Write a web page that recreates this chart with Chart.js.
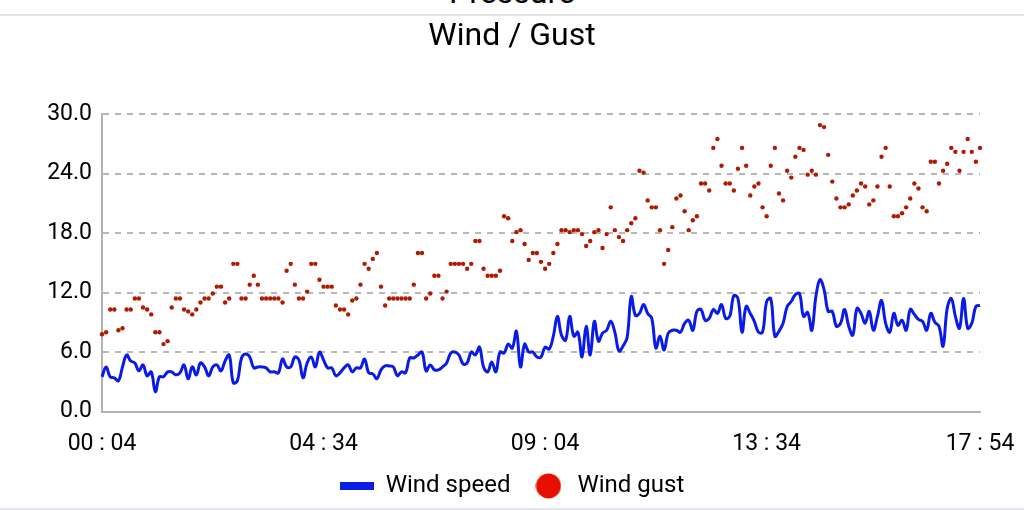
<!DOCTYPE html>
<html><head><meta charset="utf-8">
<script src="https://cdn.jsdelivr.net/npm/chart.js@4/dist/chart.umd.min.js"></script>
<style>
html,body{margin:0;padding:0;background:#fff;width:1024px;height:510px;overflow:hidden;font-family:Roboto,sans-serif;}
#prev{position:absolute;left:0;width:1024px;top:-24px;text-align:center;font-size:32px;line-height:32px;color:#000;}
#sep{position:absolute;left:0;top:14px;width:1024px;height:2px;background:#e2e2e2;}
#wrap{position:absolute;left:0;top:17px;width:1024px;height:491px;}
#bot{position:absolute;left:0;top:508px;width:1024px;height:2px;background:#e4e6ee;}
</style></head>
<body>
<div id="prev">Pressure</div><div id="sep"></div>
<div id="wrap"><canvas id="c"></canvas></div>
<div id="bot"></div>
<script>
const startMinutes = 4;     // 00:04
const stepMinutes = 5;
const windSpeed = [
3.5,4.5,3.5,3.4,3.1,4.5,5.7,5.1,4.9,4.1,4.7,3.6,4.0,2.0,3.5,3.5,4.0,4.0,3.7,3.9,
4.7,3.3,4.5,3.7,4.9,4.5,3.6,4.5,4.7,4.1,5.1,5.7,2.9,3.1,5.4,5.8,5.5,4.4,4.5,4.5,
4.4,4.0,4.0,3.9,5.3,4.5,4.5,5.5,5.2,3.4,4.9,5.5,4.5,6.0,5.2,4.4,4.4,3.6,3.9,4.4,
4.7,4.0,4.4,4.4,5.3,3.9,3.8,3.3,4.2,4.6,4.6,4.5,3.6,4.0,3.9,5.4,5.4,5.7,6.0,4.1,
4.7,4.2,4.2,4.5,4.9,5.9,6.0,5.7,4.8,4.9,6.0,5.7,6.5,4.5,4.0,5.0,4.0,6.0,5.9,6.8,
6.4,8.1,4.5,6.8,6.0,6.0,5.5,5.5,6.5,6.3,7.6,9.6,7.7,7.2,9.6,7.6,8.0,5.5,8.6,5.7,
9.1,7.1,7.9,8.2,9.1,8.0,6.1,6.6,7.5,11.6,9.7,9.9,10.8,9.9,9.4,6.4,7.6,6.2,7.9,8.2,
8.2,8.0,8.9,9.2,8.2,10.1,10.3,9.2,9.4,10.3,9.9,10.8,9.4,9.6,11.7,11.4,8.0,10.6,9.9,9.1,
8.0,8.0,11.1,11.4,7.6,8.1,8.9,10.6,11.1,11.8,11.9,9.6,10.0,8.2,11.6,13.3,12.3,10.1,10.1,8.6,
8.9,10.3,8.6,7.7,10.4,9.9,8.9,10.1,8.2,9.6,11.2,8.9,8.0,9.9,8.7,9.2,8.2,10.3,9.8,9.3,
9.1,8.2,9.9,9.0,8.6,6.6,10.4,11.4,9.6,8.4,11.4,8.4,8.9,10.6,10.7
];
const windGust = [
7.8,8.0,10.3,10.3,8.2,8.4,10.3,10.3,11.4,11.4,10.5,10.3,9.8,8.0,8.0,6.8,7.1,10.5,11.4,11.4,
10.3,10.1,9.8,10.3,11.0,11.4,11.4,11.9,12.6,12.6,11.0,11.4,14.9,14.9,11.4,11.4,12.8,13.7,12.8,11.4,
11.4,11.4,11.4,11.4,11.0,14.2,14.9,12.8,11.4,11.4,12.1,14.9,14.9,13.3,12.6,12.6,12.6,10.7,10.3,10.3,
9.8,11.2,11.4,12.8,14.9,14.4,15.4,16.0,12.6,10.7,11.4,11.4,11.4,11.4,11.4,11.4,12.8,16.0,16.0,11.4,
11.9,13.7,13.7,11.4,12.1,14.9,14.9,14.9,14.9,14.4,14.9,17.2,17.2,14.4,13.7,13.7,13.7,14.2,19.7,19.5,
17.2,18.1,18.3,16.9,15.3,16.0,16.0,15.1,14.4,14.9,16.0,16.9,18.3,18.3,18.1,18.3,18.3,17.9,16.7,17.2,
18.1,18.3,16.5,17.9,20.6,18.3,17.6,17.2,18.3,19.0,19.5,24.3,24.1,21.3,20.6,20.6,18.3,14.9,16.3,18.6,
21.5,21.8,20.2,18.3,19.3,19.7,23.0,23.0,22.3,26.6,27.5,24.8,23.0,23.0,22.3,24.5,26.6,24.8,21.8,22.7,
23.0,20.6,19.7,24.8,26.6,22.0,21.3,24.3,23.6,25.7,26.6,26.4,23.9,24.3,23.9,28.9,28.7,25.9,23.2,21.5,
20.6,20.6,20.9,21.8,22.3,23.0,22.7,20.9,21.3,22.7,25.7,26.6,22.7,19.7,19.7,20.0,20.6,21.5,23.0,22.5,
20.6,20.2,25.2,25.2,23.0,24.3,25.0,26.6,26.2,24.3,26.2,27.5,26.2,25.2,26.6
];
const tickIndexes = [0, 54, 108, 162, 214];
const tickLabels = ['00 : 04', '04 : 34', '09 : 04', '13 : 34', '17 : 54'];
const yMin = 0, yMax = 30, yStep = 6;

const pad = n => String(n).padStart(2, '0');
const times = windSpeed.map((_, i) => {
  const m = startMinutes + i * stepMinutes;
  return pad(Math.floor(m / 60)) + ' : ' + pad(m % 60);
});

function makeIcon(w, h, draw) {
  const c = document.createElement('canvas');
  c.width = w; c.height = h;
  draw(c.getContext('2d'));
  return c;
}
const blueIcon = makeIcon(34, 8, g => { g.fillStyle = '#0a1ee8'; g.fillRect(0, 0, 34, 8); });
const redIcon = makeIcon(26, 26, g => {
  g.fillStyle = '#e60f00'; g.beginPath(); g.arc(13, 13, 12.5, 0, Math.PI * 2); g.fill();
});

const FONT = 'Roboto';
new Chart(document.getElementById('c'), {
  type: 'line',
  data: {
    labels: times,
    datasets: [{
      label: 'Wind speed',
      data: windSpeed,
      borderColor: '#0a1be8',
      backgroundColor: '#0a1be8',
      borderWidth: 3,
      pointRadius: 0,
      tension: 0.4,
      fill: false
    }, {
      label: 'Wind gust',
      data: windGust,
      showLine: false,
      borderColor: '#e60f00',
      backgroundColor: '#e60f00',
      pointBackgroundColor: '#b01a00',
      pointBorderColor: '#b01a00',
      pointRadius: 2.2,
      pointBorderWidth: 0
    }]
  },
  options: {
    responsive: true,
    maintainAspectRatio: false,
    animation: false,
    layout: { padding: { left: 44, right: 44, top: 0, bottom: 0 } },
    plugins: {
      title: {
        display: true, text: 'Wind / Gust', color: '#000',
        font: { family: FONT, size: 32, weight: 'normal', lineHeight: 1.1 },
        padding: { top: 2, bottom: 60 }
      },
      legend: {
        position: 'bottom',
        labels: {
          usePointStyle: true, pointStyleWidth: 34, boxHeight: 18, padding: 21,
          color: '#000', font: { family: FONT, size: 24 },
          generateLabels(chart) {
            const items = Chart.defaults.plugins.legend.labels.generateLabels(chart);
            items[0].pointStyle = blueIcon;
            items[1].pointStyle = redIcon;
            return items;
          }
        }
      },
      tooltip: { enabled: false }
    },
    scales: {
      x: {
        grid: { display: false, drawTicks: false },
        border: { display: true, color: '#b3b3b3', width: 2 },
        afterFit: s => { s.height = 41.5; },
        ticks: {
          autoSkip: false, maxRotation: 0, minRotation: 0, padding: 9,
          color: '#000', font: { family: FONT, size: 23, lineHeight: 2.03 },
          callback: (v, i) => { const k = tickIndexes.indexOf(i); return k >= 0 ? tickLabels[k] : ''; }
        }
      },
      y: {
        min: yMin, max: yMax,
        afterFit: s => { s.width = 58; },
        ticks: {
          stepSize: yStep, padding: 10, color: '#000', font: { family: FONT, size: 23 },
          callback: v => Number(v).toFixed(1)
        },
        grid: { color: '#b8b8b8', lineWidth: 2, drawTicks: false },
        border: { display: true, color: '#b3b3b3', width: 2, dash: [6, 6] }
      }
    }
  }
});
</script>
</body></html>
